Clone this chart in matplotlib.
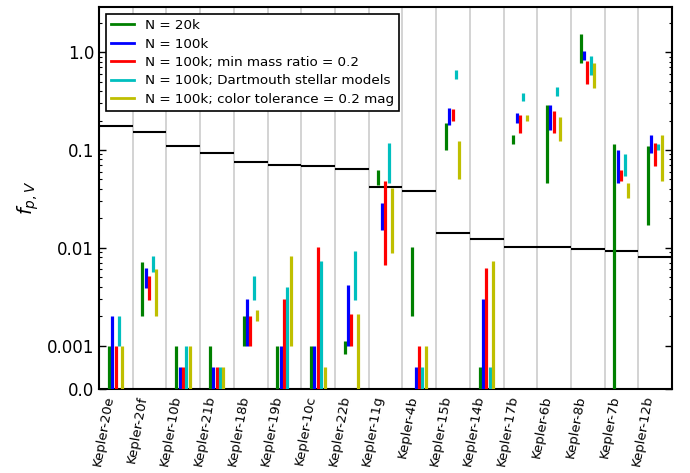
import matplotlib
matplotlib.use("Agg")
import matplotlib.pyplot as plt
from matplotlib.ticker import FixedLocator, NullFormatter

PLANETS = ["Kepler-20e", "Kepler-20f", "Kepler-10b", "Kepler-21b", "Kepler-18b",
           "Kepler-19b", "Kepler-10c", "Kepler-22b", "Kepler-11g", "Kepler-4b",
           "Kepler-15b", "Kepler-14b", "Kepler-17b", "Kepler-6b", "Kepler-8b",
           "Kepler-7b", "Kepler-12b"]

# black reference level per planet
LEVEL = [0.178, 0.151, 0.109, 0.093, 0.076, 0.070, 0.069, 0.064, 0.042, 0.038,
         0.0142, 0.0123, 0.0103, 0.0103, 0.0098, 0.0093, 0.0081]

# ranges (lo, hi) per configuration
N20K_LO = [0, 0.002, 0, 0, 0.001, 0, 0, 0.0008, 0.044, 0.002,
           0.10, 0, 0.114, 0.046, 0.78, 0, 0.0172]
N20K_HI = [0.001, 0.0072, 0.001, 0.001, 0.002, 0.001, 0.001, 0.0011, 0.063, 0.0103,
           0.19, 0.0005, 0.144, 0.29, 1.52, 0.114, 0.111]

N100K_LO = [0, 0.0039, 0, 0, 0.001, 0, 0, 0.001, 0.0153, 0,
            0.18, 0, 0.19, 0.16, 0.84, 0.046, 0.093]
N100K_HI = [0.002, 0.0062, 0.0005, 0.0005, 0.003, 0.001, 0.001, 0.0042, 0.0287, 0.0005,
            0.27, 0.003, 0.24, 0.29, 1.02, 0.10, 0.144]

MASS_LO = [0, 0.0029, 0, 0, 0.001, 0, 0, 0.001, 0.0067, 0,
           0.197, 0, 0.15, 0.15, 0.47, 0.048, 0.068]
MASS_HI = [0.001, 0.0051, 0.0005, 0.0005, 0.002, 0.003, 0.0103, 0.0021, 0.048, 0.001,
           0.26, 0.0062, 0.23, 0.25, 0.81, 0.063, 0.118]

DART_LO = [0.001, 0.0057, 0, 0, 0.0029, 0, 0, 0.0029, 0.046, 0,
           0.53, 0, 0.315, 0.36, 0.59, 0.054, 0.10]
DART_HI = [0.002, 0.0082, 0.001, 0.0005, 0.0051, 0.004, 0.0073, 0.0092, 0.118, 0.0005,
           0.665, 0.0005, 0.38, 0.44, 0.91, 0.09, 0.114]

COLOR_LO = [0, 0.002, 0, 0, 0.00177, 0.001, 0, 0, 0.0089, 0,
            0.05, 0, 0.197, 0.123, 0.43, 0.032, 0.048]
COLOR_HI = [0.001, 0.006, 0.001, 0.0005, 0.0023, 0.0082, 0.0005, 0.0021, 0.041, 0.001,
            0.123, 0.0073, 0.23, 0.22, 0.78, 0.046, 0.144]

SERIES = [
    ("N = 20k", N20K_LO, N20K_HI, (0, 0.5, 0)),
    ("N = 100k", N100K_LO, N100K_HI, (0, 0, 1)),
    ("N = 100k; min mass ratio = 0.2", MASS_LO, MASS_HI, (1, 0, 0)),
    ("N = 100k; Dartmouth stellar models", DART_LO, DART_HI, (0, 0.75, 0.75)),
    ("N = 100k; color tolerance = 0.2 mag", COLOR_LO, COLOR_HI, (0.75, 0.75, 0)),
]
OFFSETS = [-0.21, -0.11, -0.01, 0.09, 0.19]


def main():
    fig = plt.figure(figsize=(6.9, 4.73), dpi=100)
    ax = fig.add_axes([0.1435, 0.1776, 0.8305, 0.8076])
    ax.set_yscale("symlog", linthresh=1e-3, linscale=0.4)

    n = len(PLANETS)
    for i in range(n - 1):
        ax.axvline(i + 0.5, color="#d0d0d0", lw=1.3, zorder=0)

    for i, lev in enumerate(LEVEL):
        ax.hlines(lev, i - 0.5, i + 0.5, color="black", lw=1.5, zorder=2)

    for (label, lo, hi, color), off in zip(SERIES, OFFSETS):
        xs = [i + off for i in range(n)]
        ax.vlines(xs, lo, hi, color=color, lw=2.3, zorder=3)
        ax.plot([], [], color=color, lw=2, label=label)

    ax.set_xlim(-0.5, n - 0.5)
    ax.set_ylim(0, 2.9)
    ax.set_xticks(range(n))
    ax.set_xticklabels(PLANETS, rotation=80, ha="right", fontsize=9.5)
    ax.tick_params(axis="x", length=0, pad=4)

    ax.set_yticks([0, 1e-3, 1e-2, 0.1, 1.0])
    ax.set_yticklabels(["0.0", "0.001", "0.01", "0.1", "1.0"], fontsize=12)
    minors = [k * 10.0 ** e for e in (-3, -2, -1) for k in range(2, 10)] + [2.0]
    ax.yaxis.set_minor_locator(FixedLocator(minors))
    ax.yaxis.set_minor_formatter(NullFormatter())
    ax.tick_params(axis="y", which="major", direction="in", length=5, width=1,
                   left=True, right=True)
    ax.tick_params(axis="y", which="minor", direction="in", length=2.5, width=0.8,
                   left=True, right=True)
    for sp in ax.spines.values():
        sp.set_linewidth(1.5)

    ax.set_ylabel("$f_{p,V}$", fontsize=14)

    leg = ax.legend(loc="upper left", fontsize=9.7, handlelength=1.7,
                    fancybox=False, framealpha=1, borderaxespad=0.5,
                    labelspacing=0.4)
    leg.get_frame().set_edgecolor("black")
    leg.get_frame().set_linewidth(1.2)

    fig.savefig("out.png", dpi=100)


if __name__ == "__main__":
    main()
